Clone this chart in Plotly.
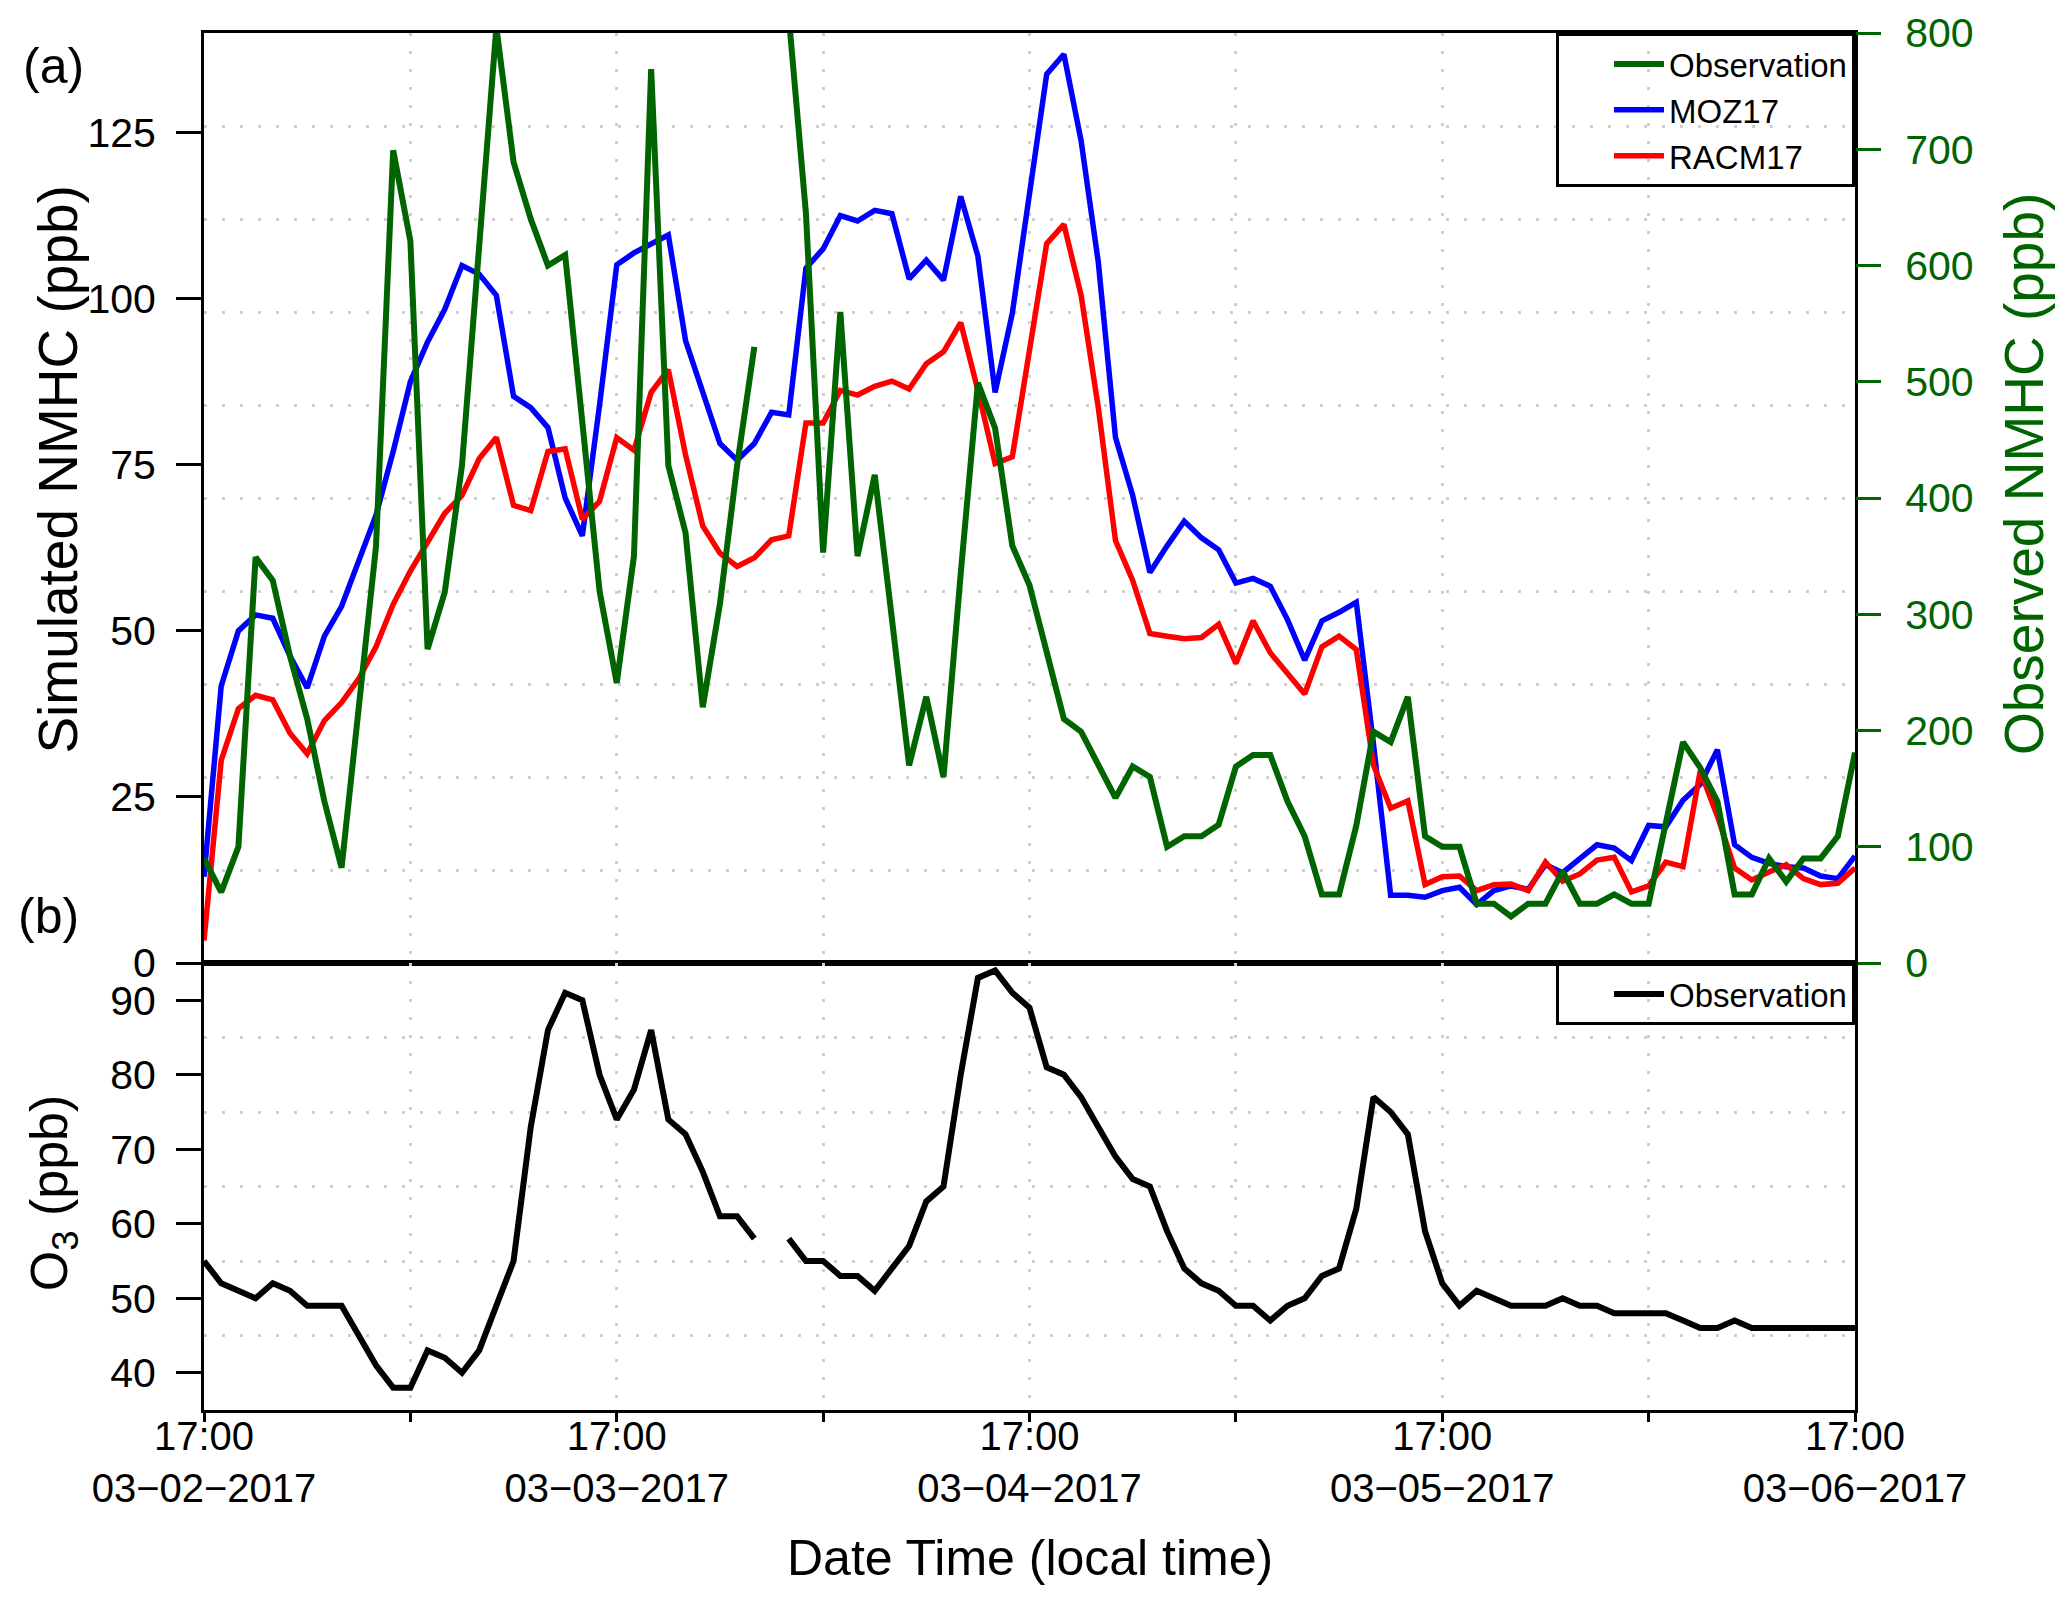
import pandas as pd
import plotly.graph_objects as go

# hourly, 17:00 03-02-2017 .. 17:00 03-06-2017
times = pd.date_range("2017-03-02 17:00", periods=97, freq="h")

moz17 = [13, 41.7, 50, 52.4, 51.9, 46.2, 41.4, 49.2, 53.7, 60.5, 67.4, 77, 87.5, 93.5, 98.4, 105,
         103.7, 100.5, 85.3, 83.6, 80.6, 70, 64.3, 84, 105.1, 106.9, 108.3, 109.6, 93.7, 85.9, 78.2,
         75.7, 78.2, 82.9, 82.5, 104.6, 107.5, 112.5, 111.7, 113.3, 112.8, 103, 105.8, 102.8, 115.4,
         106.4, 85.9, 97.8, 115.5, 133.8, 136.8, 123.8, 105.5, 79.1, 70.4, 58.8, 62.8, 66.5, 64, 62.2,
         57.2, 57.9, 56.7, 51.7, 45.6, 51.5, 52.8, 54.3, 33, 10.2, 10.2, 9.9, 10.9, 11.4, 8.8, 10.9,
         11.6, 11.1, 14.8, 13.6, 15.7, 17.8, 17.3, 15.4, 20.7, 20.5, 24.5, 26.9, 32.1, 17.8, 15.9, 15,
         14.5, 14.3, 13.1, 12.7, 16.1]

racm17 = [3.4, 30.5, 38.3, 40.3, 39.6, 34.6, 31.5, 36.5, 39.2, 42.8, 47.6, 54, 59, 63.4, 67.7, 70.4,
          75.9, 79.1, 68.9, 68.1, 77, 77.4, 66.8, 69.5, 79.1, 77.2, 85.9, 89.3, 76.5, 65.8, 61.7, 59.7,
          61, 63.7, 64.3, 81.3, 81.3, 86.2, 85.5, 86.8, 87.6, 86.4, 90.2, 92, 96.4, 86.2, 75.2, 76.2,
          92.5, 108.3, 111.2, 100.5, 83.6, 63.6, 57.6, 49.6, 49.2, 48.8, 49, 51, 45.1, 51.5, 46.7, 43.7,
          40.5, 47.6, 49.2, 47.2, 29.8, 23.3, 24.4, 11.8, 13, 13.1, 10.9, 11.8, 11.9, 10.9, 15.2, 12.3,
          13.4, 15.5, 15.9, 10.7, 11.6, 15.2, 14.5, 28.9, 22.1, 14.3, 12.5, 13.7, 14.8, 12.7, 11.8, 12,
          14.3]

nmhc_obs = [90, 61, 100, 349, 329, 264, 210, 139, 82, 217, 358, 699, 621, 270, 319, 428, 615, 805,
            689, 640, 600, 609, 465, 320, 241, 350, 769, 428, 370, 220, 309, 428, 530, None, 815, 645,
            353, 560, 350, 420, 296, 170, 229, 160, 335, 499, 460, 359, 325, 269, 210, 199, 170, 142,
            169, 160, 100, 109, 109, 119, 169, 179, 179, 139, 109, 59, 59, 118, 199, 190, 229, 109,
            100, 100, 51, 51, 40, 51, 51, 79, 51, 51, 59, 51, 51, 118, 190, 168, 139, 59, 59, 90, 70,
            90, 90, 109, 181]

o3_obs = [55, 52, 51, 50, 52, 51, 49, 49, 49, 45, 41, 38, 38, 43, 42, 40, 43, 49, 55, 73, 86, 91, 90,
          80, 74, 78, 86, 74, 72, 67, 61, 61, 58, None, 58, 55, 55, 53, 53, 51, 54, 57, 63, 65, 80, 93,
          94, 91, 89, 81, 80, 77, 73, 69, 66, 65, 59, 54, 52, 51, 49, 49, 47, 49, 50, 53, 54, 62, 77,
          75, 72, 59, 52, 49, 51, 50, 49, 49, 49, 50, 49, 49, 48, 48, 48, 48, 47, 46, 46, 47, 46, 46,
          46, 46, 46, 46, 46]

tick_times = pd.date_range("2017-03-02 17:00", periods=9, freq="12h")
tick_labels = ["17:00<br>03\u221202\u22122017", "", "17:00<br>03\u221203\u22122017", "",
               "17:00<br>03\u221204\u22122017", "", "17:00<br>03\u221205\u22122017", "",
               "17:00<br>03\u221206\u22122017"]

GREEN = "#006400"
FONT = "Liberation Sans, Arial, sans-serif"
DOTS = dict(gridcolor="#cfcfcf", gridwidth=3, griddash="3px,15px")
split = 447 / 1377

fig = go.Figure()
fig.add_trace(go.Scatter(x=times, y=moz17, name="MOZ17", mode="lines", legendrank=2,
                         line=dict(color="#0000ff", width=5.5), xaxis="x", yaxis="y"))
fig.add_trace(go.Scatter(x=times, y=racm17, name="RACM17", mode="lines", legendrank=3,
                         line=dict(color="#ff0000", width=5.5), xaxis="x", yaxis="y"))
fig.add_trace(go.Scatter(x=times, y=nmhc_obs, name="Observation", mode="lines", legendrank=1,
                         line=dict(color=GREEN, width=6), connectgaps=False,
                         xaxis="x", yaxis="y2"))
fig.add_trace(go.Scatter(x=times, y=o3_obs, name="Observation", mode="lines", legend="legend2",
                         line=dict(color="black", width=6), connectgaps=False,
                         xaxis="x2", yaxis="y3"))

xcommon = dict(type="date", range=[times[0], times[-1]], tickmode="array",
               tickvals=list(tick_times), showline=True, mirror=True, linecolor="black",
               linewidth=3, zeroline=False, showgrid=True, automargin=False, **DOTS)

yleft = dict(tickmode="array", ticks="outside", ticklen=25, tickwidth=3, tickcolor="black",
             showline=True, mirror=True, linecolor="black", linewidth=3, zeroline=False,
             showgrid=False, ticklabelstandoff=12, tickfont=dict(size=41), automargin=False)

# the page body has an 8px margin, so the figure is drawn 8px in from the window edge
fig.update_layout(
    width=2051, height=1585,
    margin=dict(l=196, r=204, t=25, b=183),
    paper_bgcolor="white", plot_bgcolor="white",
    font=dict(family=FONT, size=40, color="black"),
    xaxis=dict(domain=[0, 1], anchor="y", showticklabels=False, ticks="", **xcommon),
    xaxis2=dict(domain=[0, 1], anchor="y3", matches="x", ticktext=tick_labels, ticks="outside",
                ticklen=9, tickwidth=3, tickcolor="black", tickfont=dict(size=40),
                ticklabelstandoff=-20, **xcommon),
    yaxis=dict(domain=[split, 1], range=[0, 140], tickvals=[0, 25, 50, 75, 100, 125],
               minor=dict(tick0=0, dtick=14, ticks="", showgrid=True, **DOTS), **yleft),
    yaxis2=dict(overlaying="y", side="right", anchor="x", range=[0, 800], dtick=100,
                ticks="outside", ticklen=25, tickwidth=3, tickcolor=GREEN,
                tickfont=dict(color=GREEN, size=41), showgrid=False, zeroline=False,
                showline=False, ticklabelstandoff=16, automargin=False),
    yaxis3=dict(domain=[0, split], anchor="x2", range=[35, 95],
                tickvals=[40, 50, 60, 70, 80, 90],
                minor=dict(tick0=35, dtick=10, ticks="", showgrid=True, **DOTS), **yleft),
    legend=dict(x=1, xanchor="right", y=1, yanchor="top", bgcolor="rgba(0,0,0,0)",
                bordercolor="black", borderwidth=3, font=dict(size=33),
                indentation=50, itemwidth=50, traceorder="normal"),
    legend2=dict(x=1, xanchor="right", y=split, yanchor="top", bgcolor="rgba(0,0,0,0)",
                 bordercolor="black", borderwidth=3, font=dict(size=33),
                 indentation=50, itemwidth=50),
)

labels = [
    ("Simulated NMHC (ppb)", -0.089, 0.683, -90, 55, "black"),
    ("Observed NMHC (ppb)", 1.102, 0.68, -90, 55, GREEN),
    ("O<sub>3</sub> (ppb)", -0.091, 0.158, -90, 52, "black"),
    ("Date Time (local time)", 0.5, -0.1075, 0, 50, "black"),
    ("(a)", -0.091, 0.976, 0, 50, "black"),
    ("(b)", -0.094, 0.359, 0, 50, "black"),
]
for text, x, y, angle, size, color in labels:
    fig.add_annotation(text=text, x=x, y=y, xref="paper", yref="paper", xanchor="center",
                       yanchor="middle", textangle=angle, showarrow=False,
                       font=dict(size=size, color=color))

fig.write_html("out.html")
